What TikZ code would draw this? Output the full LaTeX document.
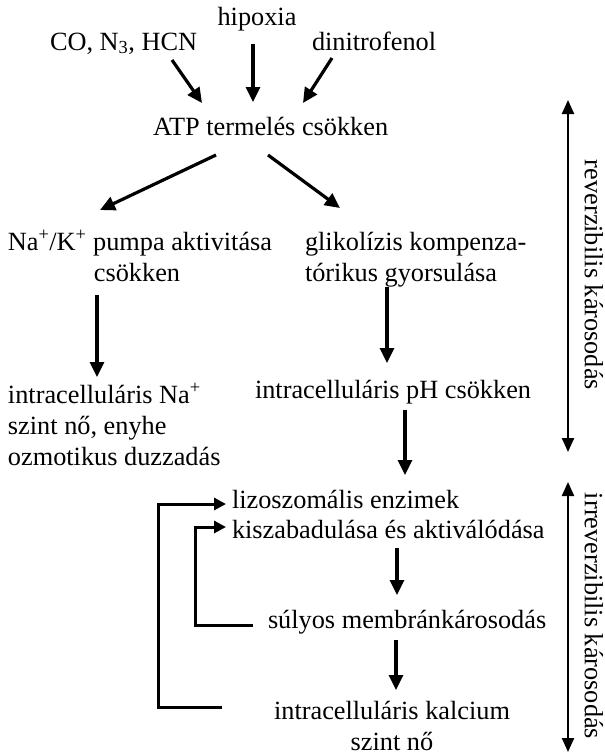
\documentclass[tikz,border=0pt]{standalone}
\usepackage{fontspec}
\setmainfont{Liberation Serif}
\usetikzlibrary{arrows.meta}
\begin{document}
\begin{tikzpicture}[x=1pt,y=-1pt,
  txt/.style={inner sep=0pt,outer sep=0pt,font=\fontsize{26.3}{31}\selectfont},
  arr/.style={line width=3.2pt,-{Triangle[length=15pt,width=14pt]}},
  loop/.style={line width=3pt,-{Triangle[length=12pt,width=12pt]}},
  span/.style={line width=2.2pt,{Triangle[length=14pt,width=12pt]}-{Triangle[length=14pt,width=12pt]}}]
\useasboundingbox (0,0) rectangle (605,756);
% texts
\node[txt,anchor=base] (hip) at (257,25) {hipoxia};
\node[txt,anchor=base west] (co) at (50,50) {CO, N\textsubscript{3}, HCN};
\node[txt,anchor=base west] (dini) at (312,50) {dinitrofenol};
\node[txt,anchor=base west] (atp) at (153,135) {ATP termelés csökken};
\node[txt,anchor=base] (na1) at (140,250) {Na\textsuperscript{+}/K\textsuperscript{+} pumpa aktivitása};
\node[txt,anchor=base] (na2) at (137,281) {csökken};
\node[txt,anchor=base west] (gl1) at (305,250) {glikolízis kompenza-};
\node[txt,anchor=base west] (gl2) at (305,281) {tórikus gyorsulása};
\node[txt,anchor=base west] (nai1) at (8,403) {intracelluláris Na\textsuperscript{+}};
\node[txt,anchor=base west] (nai2) at (8,434) {szint nő, enyhe};
\node[txt,anchor=base west] (nai3) at (8,465) {ozmotikus duzzadás};
\node[txt,anchor=base west] (ph) at (255,398) {intracelluláris pH csökken};
\node[txt,anchor=base west] (li1) at (232,508) {lizoszomális enzimek};
\node[txt,anchor=base west] (li2) at (232,538) {kiszabadulása és aktiválódása};
\node[txt,anchor=base west] (su) at (268,628) {súlyos membránkárosodás};
\node[txt,anchor=base] (ca1) at (392,719) {intracelluláris kalcium};
\node[txt,anchor=base] (ca2) at (392,750) {szint nő};
\node[txt,rotate=-90] (rev) at (594,275) {reverzibilis károsodás};
\node[txt,rotate=-90] (irr) at (594,616) {irreverzibilis károsodás};
% arrow end points
\coordinate (a1s) at (172,60);  \coordinate (a1e) at (202,103);
\coordinate (a2s) at (253,44);  \coordinate (a2e) at (253,102);
\coordinate (a3s) at (332,58);  \coordinate (a3e) at (303,103);
\coordinate (a4s) at (216,155); \coordinate (a4e) at (100,210);
\coordinate (a5s) at (268,155); \coordinate (a5e) at (340,208);
\coordinate (a6s) at (97,295);  \coordinate (a6e) at (97,377);
\coordinate (a7s) at (387,287); \coordinate (a7e) at (387,363);
\coordinate (a8s) at (405,410); \coordinate (a8e) at (405,475);
\coordinate (a9s) at (397,548); \coordinate (a9e) at (397,595);
\coordinate (a10s) at (396,640); \coordinate (a10e) at (396,690);
\coordinate (r1) at (568,100); \coordinate (r2) at (568,452);
\coordinate (i1) at (568,482); \coordinate (i2) at (568,752);
\coordinate (o1) at (222,707); \coordinate (o2) at (158,707); \coordinate (o3) at (226,504);
\coordinate (n1) at (253,625); \coordinate (n2) at (195,625); \coordinate (n3) at (226,527);
% arrows
\draw[arr] (a1s) -- (a1e);
\draw[arr] (a2s) -- (a2e);
\draw[arr] (a3s) -- (a3e);
\draw[arr] (a4s) -- (a4e);
\draw[arr] (a5s) -- (a5e);
\draw[arr] (a6s) -- (a6e);
\draw[arr] (a7s) -- (a7e);
\draw[arr] (a8s) -- (a8e);
\draw[arr] (a9s) -- (a9e);
\draw[arr] (a10s) -- (a10e);
\draw[span] (r1) -- (r2);
\draw[span] (i1) -- (i2);
\draw[loop] (o1) -- (o2) |- (o3);
\draw[loop] (n1) -- (n2) |- (n3);
\end{tikzpicture}
\end{document}
